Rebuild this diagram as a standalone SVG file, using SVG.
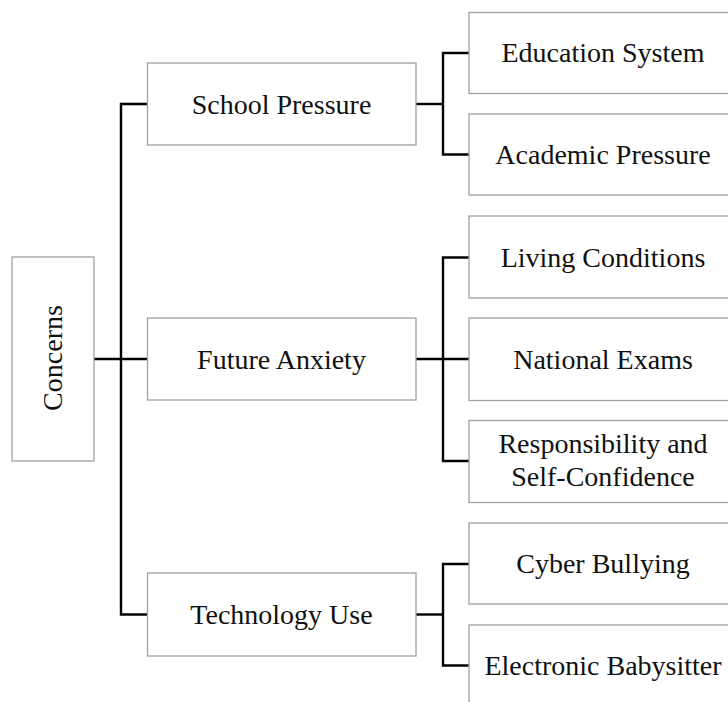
<svg xmlns="http://www.w3.org/2000/svg" width="728" height="702" viewBox="0 0 728 702">
<style>
.box{fill:#fff;stroke:#a0a0a0;stroke-width:1.3}
.lbl{font-family:"Liberation Serif","Times New Roman",serif;font-size:28px;fill:#111;text-anchor:middle}
.con{fill:none;stroke:#000;stroke-width:2.4}
</style>
<rect width="728" height="702" fill="#fff"/>
<g id="connectors">
<path class="con" d="M94,359 H147.5"/>
<path class="con" d="M147.5,104 H121 V614.5 H147.5"/>
<path class="con" d="M416,104 H443"/>
<path class="con" d="M469,53 H443 V154.5 H469"/>
<path class="con" d="M416,359 H469"/>
<path class="con" d="M469,257.5 H443 V461 H469"/>
<path class="con" d="M416,614.5 H443"/>
<path class="con" d="M469,564 H443 V665.5 H469"/>
</g>
<g id="concerns">
<rect class="box" x="12" y="257" width="82" height="204"/>
<text class="lbl" transform="translate(62,358) rotate(-90)" x="0" y="0">Concerns</text>
</g>
<g id="school-pressure">
<rect class="box" x="147.5" y="63" width="268.5" height="82"/>
<text class="lbl" x="281.5" y="113.5">School Pressure</text>
</g>
<g id="future-anxiety">
<rect class="box" x="147.5" y="318" width="268.5" height="82"/>
<text class="lbl" x="281.5" y="368.5">Future Anxiety</text>
</g>
<g id="technology-use">
<rect class="box" x="147.5" y="573" width="268.5" height="83"/>
<text class="lbl" x="281.5" y="624">Technology Use</text>
</g>
<g id="education-system">
<rect class="box" x="469" y="12.5" width="268" height="81"/>
<text class="lbl" x="603" y="62">Education System</text>
</g>
<g id="academic-pressure">
<rect class="box" x="469" y="114" width="268" height="81"/>
<text class="lbl" x="603" y="164">Academic Pressure</text>
</g>
<g id="living-conditions">
<rect class="box" x="469" y="216" width="268" height="82"/>
<text class="lbl" x="603" y="266.5">Living Conditions</text>
</g>
<g id="national-exams">
<rect class="box" x="469" y="318" width="268" height="82.5"/>
<text class="lbl" x="603" y="368.5">National Exams</text>
</g>
<g id="responsibility">
<rect class="box" x="469" y="420.5" width="268" height="82"/>
<text class="lbl" x="603" y="453">Responsibility and</text>
<text class="lbl" x="603" y="486">Self-Confidence</text>
</g>
<g id="cyber-bullying">
<rect class="box" x="469" y="523" width="268" height="81"/>
<text class="lbl" x="603" y="573">Cyber Bullying</text>
</g>
<g id="electronic-babysitter">
<rect class="box" x="469" y="625" width="268" height="82"/>
<text class="lbl" x="603" y="675">Electronic Babysitter</text>
</g>
</svg>
